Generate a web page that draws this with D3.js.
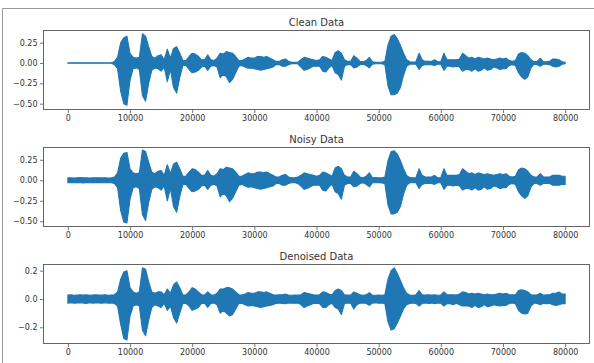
<!DOCTYPE html>
<html>
<head>
<meta charset="utf-8">
<script src="https://cdn.jsdelivr.net/npm/d3@7"></script>
<style>
  html, body { margin: 0; padding: 0; background: #fff; }
  svg { display: block; }
  text { font-family: "DejaVu Sans", sans-serif; fill: #333; }
</style>
</head>
<body>
<svg id="chart" width="594" height="363"></svg>
<script>
// Waveform envelopes, one value per 500-sample bin (0 .. 80000).
const binSize = 500;

const cleanHi = [
  0.003,0.003,0.003,0.003,0.003,0.003,0.003,0.003,0.003,0.003,
  0.003,0.003,0.003,0.003,0.003,0.02,0.07,0.25,0.31,0.33,
  0.12,0.07,0.06,0.07,0.36,0.33,0.20,0.08,0.06,0.09,
  0.10,0.04,0.17,0.06,0.18,0.20,0.12,0.03,0.03,0.08,
  0.12,0.11,0.08,0.04,0.04,0.10,0.04,0.03,0.06,0.12,
  0.11,0.14,0.13,0.12,0.08,0.03,0.03,0.05,0.07,0.06,
  0.06,0.08,0.08,0.07,0.08,0.06,0.04,0.02,0.02,0.04,
  0.05,0.02,0.008,0.008,0.01,0.04,0.07,0.06,0.05,0.04,
  0.03,0.04,0.08,0.07,0.05,0.03,0.13,0.15,0.12,0.04,
  0.02,0.02,0.09,0.06,0.02,0.015,0.03,0.07,0.015,0.01,
  0.01,0.01,0.02,0.22,0.33,0.35,0.30,0.22,0.12,0.04,
  0.015,0.012,0.015,0.12,0.04,0.02,0.02,0.02,0.04,0.015,
  0.015,0.12,0.04,0.04,0.04,0.04,0.05,0.12,0.09,0.06,
  0.07,0.05,0.07,0.06,0.05,0.06,0.05,0.04,0.05,0.06,
  0.05,0.06,0.03,0.02,0.03,0.11,0.13,0.12,0.09,0.04,
  0.015,0.02,0.06,0.015,0.015,0.02,0.05,0.05,0.04,0.015,
  0.01
];
const cleanLo = [
  -0.003,-0.003,-0.003,-0.003,-0.003,-0.003,-0.003,-0.003,-0.003,-0.003,
  -0.003,-0.003,-0.003,-0.003,-0.003,-0.02,-0.07,-0.35,-0.50,-0.52,
  -0.21,-0.07,-0.06,-0.08,-0.40,-0.47,-0.25,-0.09,-0.06,-0.07,
  -0.10,-0.05,-0.23,-0.08,-0.30,-0.37,-0.18,-0.03,-0.03,-0.08,
  -0.12,-0.11,-0.09,-0.05,-0.04,-0.09,-0.04,-0.03,-0.05,-0.18,
  -0.14,-0.17,-0.24,-0.20,-0.12,-0.04,-0.03,-0.05,-0.065,-0.06,
  -0.07,-0.08,-0.09,-0.08,-0.07,-0.06,-0.05,-0.02,-0.02,-0.04,
  -0.04,-0.02,-0.008,-0.008,-0.01,-0.05,-0.09,-0.08,-0.06,-0.04,
  -0.04,-0.04,-0.10,-0.11,-0.06,-0.03,-0.12,-0.14,-0.21,-0.04,
  -0.02,-0.02,-0.06,-0.05,-0.02,-0.015,-0.03,-0.06,-0.015,-0.01,
  -0.01,-0.01,-0.02,-0.28,-0.39,-0.39,-0.37,-0.30,-0.15,-0.04,
  -0.015,-0.012,-0.015,-0.08,-0.03,-0.02,-0.02,-0.02,-0.03,-0.015,
  -0.015,-0.09,-0.04,-0.04,-0.05,-0.04,-0.05,-0.10,-0.08,-0.08,
  -0.10,-0.07,-0.10,-0.09,-0.06,-0.09,-0.08,-0.05,-0.06,-0.08,
  -0.07,-0.07,-0.03,-0.02,-0.03,-0.12,-0.17,-0.20,-0.17,-0.06,
  -0.015,-0.02,-0.04,-0.015,-0.015,-0.02,-0.04,-0.05,-0.04,-0.015,
  -0.01
];

const noisyHi = [
  0.029,0.031,0.028,0.030,0.032,0.029,0.030,0.028,0.031,0.030,
  0.030,0.029,0.031,0.028,0.030,0.04,0.09,0.27,0.33,0.34,
  0.14,0.09,0.08,0.09,0.37,0.35,0.22,0.10,0.08,0.11,
  0.12,0.06,0.19,0.08,0.20,0.22,0.14,0.05,0.05,0.10,
  0.14,0.13,0.10,0.06,0.06,0.12,0.06,0.05,0.08,0.14,
  0.13,0.16,0.15,0.14,0.10,0.05,0.05,0.07,0.09,0.08,
  0.08,0.10,0.10,0.09,0.10,0.08,0.06,0.04,0.04,0.06,
  0.07,0.04,0.030,0.032,0.04,0.06,0.09,0.08,0.07,0.06,
  0.05,0.06,0.10,0.09,0.07,0.05,0.15,0.17,0.14,0.06,
  0.04,0.04,0.11,0.08,0.04,0.031,0.05,0.09,0.030,0.032,
  0.029,0.031,0.04,0.24,0.35,0.36,0.32,0.24,0.14,0.06,
  0.032,0.030,0.031,0.14,0.06,0.04,0.04,0.04,0.06,0.030,
  0.031,0.14,0.06,0.06,0.06,0.06,0.07,0.14,0.11,0.08,
  0.09,0.07,0.09,0.08,0.07,0.08,0.07,0.06,0.07,0.08,
  0.07,0.08,0.05,0.04,0.05,0.13,0.15,0.14,0.11,0.06,
  0.04,0.04,0.08,0.04,0.04,0.04,0.06,0.06,0.06,0.05,
  0.05
];
const noisyLo = [
  -0.030,-0.028,-0.031,-0.029,-0.030,-0.032,-0.028,-0.030,-0.029,-0.031,
  -0.029,-0.031,-0.030,-0.028,-0.030,-0.04,-0.09,-0.37,-0.51,-0.52,
  -0.23,-0.09,-0.08,-0.10,-0.42,-0.49,-0.27,-0.11,-0.08,-0.09,
  -0.12,-0.07,-0.25,-0.10,-0.32,-0.39,-0.20,-0.05,-0.05,-0.10,
  -0.14,-0.13,-0.11,-0.07,-0.06,-0.11,-0.06,-0.05,-0.07,-0.20,
  -0.16,-0.19,-0.26,-0.22,-0.14,-0.06,-0.05,-0.07,-0.085,-0.08,
  -0.09,-0.10,-0.11,-0.10,-0.09,-0.08,-0.07,-0.04,-0.04,-0.06,
  -0.06,-0.04,-0.031,-0.029,-0.04,-0.07,-0.11,-0.10,-0.08,-0.06,
  -0.06,-0.06,-0.12,-0.13,-0.08,-0.05,-0.14,-0.16,-0.23,-0.06,
  -0.04,-0.04,-0.08,-0.07,-0.04,-0.030,-0.05,-0.08,-0.031,-0.029,
  -0.030,-0.032,-0.04,-0.30,-0.41,-0.41,-0.39,-0.32,-0.17,-0.06,
  -0.030,-0.031,-0.029,-0.10,-0.05,-0.04,-0.04,-0.04,-0.05,-0.031,
  -0.030,-0.11,-0.06,-0.06,-0.07,-0.06,-0.07,-0.12,-0.10,-0.10,
  -0.12,-0.09,-0.12,-0.11,-0.08,-0.11,-0.10,-0.07,-0.08,-0.10,
  -0.09,-0.09,-0.05,-0.04,-0.05,-0.14,-0.19,-0.22,-0.19,-0.08,
  -0.04,-0.04,-0.06,-0.04,-0.04,-0.04,-0.06,-0.06,-0.06,-0.05,
  -0.05
];

const denoisedHi = [
  0.027,0.029,0.026,0.028,0.030,0.027,0.029,0.026,0.028,0.030,
  0.028,0.027,0.029,0.026,0.028,0.03,0.05,0.14,0.19,0.20,
  0.08,0.05,0.04,0.05,0.22,0.21,0.12,0.05,0.04,0.05,
  0.05,0.03,0.07,0.04,0.10,0.12,0.08,0.028,0.03,0.05,
  0.08,0.07,0.05,0.03,0.028,0.05,0.03,0.027,0.04,0.07,
  0.07,0.08,0.08,0.07,0.05,0.03,0.028,0.035,0.045,0.04,
  0.04,0.05,0.05,0.045,0.05,0.04,0.03,0.028,0.03,0.03,
  0.035,0.028,0.026,0.028,0.027,0.03,0.045,0.04,0.035,0.03,
  0.028,0.03,0.05,0.045,0.035,0.03,0.06,0.07,0.06,0.03,
  0.028,0.027,0.05,0.04,0.03,0.026,0.029,0.045,0.027,0.026,
  0.028,0.026,0.03,0.14,0.20,0.22,0.18,0.13,0.08,0.04,
  0.028,0.026,0.029,0.06,0.03,0.028,0.03,0.027,0.03,0.026,
  0.028,0.05,0.03,0.029,0.03,0.028,0.035,0.05,0.045,0.035,
  0.04,0.035,0.04,0.035,0.03,0.035,0.03,0.03,0.035,0.04,
  0.035,0.04,0.03,0.03,0.03,0.06,0.065,0.06,0.05,0.03,
  0.028,0.03,0.04,0.027,0.029,0.03,0.04,0.04,0.05,0.035,
  0.035
];
const denoisedLo = [
  -0.029,-0.027,-0.030,-0.028,-0.026,-0.029,-0.031,-0.027,-0.029,-0.028,
  -0.028,-0.030,-0.027,-0.029,-0.028,-0.032,-0.05,-0.18,-0.28,-0.29,
  -0.12,-0.05,-0.04,-0.05,-0.22,-0.26,-0.15,-0.06,-0.04,-0.05,
  -0.06,-0.032,-0.08,-0.05,-0.13,-0.17,-0.10,-0.03,-0.031,-0.05,
  -0.08,-0.07,-0.06,-0.032,-0.03,-0.06,-0.031,-0.029,-0.04,-0.10,
  -0.08,-0.10,-0.12,-0.11,-0.07,-0.032,-0.03,-0.04,-0.05,-0.045,
  -0.05,-0.055,-0.06,-0.055,-0.05,-0.045,-0.04,-0.031,-0.029,-0.032,
  -0.033,-0.029,-0.028,-0.03,-0.028,-0.04,-0.06,-0.05,-0.04,-0.032,
  -0.031,-0.033,-0.06,-0.06,-0.04,-0.031,-0.06,-0.07,-0.11,-0.032,
  -0.028,-0.03,-0.07,-0.04,-0.029,-0.028,-0.032,-0.045,-0.029,-0.027,
  -0.03,-0.028,-0.033,-0.16,-0.22,-0.21,-0.17,-0.12,-0.07,-0.04,
  -0.032,-0.029,-0.031,-0.05,-0.032,-0.028,-0.031,-0.029,-0.033,-0.028,
  -0.03,-0.05,-0.032,-0.033,-0.04,-0.031,-0.04,-0.05,-0.05,-0.05,
  -0.06,-0.045,-0.06,-0.055,-0.04,-0.055,-0.05,-0.04,-0.045,-0.05,
  -0.045,-0.045,-0.032,-0.029,-0.033,-0.08,-0.10,-0.106,-0.10,-0.05,
  -0.029,-0.032,-0.04,-0.031,-0.033,-0.031,-0.04,-0.045,-0.04,-0.033,
  -0.033
];

const panelTitles = ["Clean Data", "Noisy Data", "Denoised Data"];
const xTickValues = [0, 10000, 20000, 30000, 40000, 50000, 60000, 70000, 80000];
const yTickValues = [
  [0.25, 0.00, -0.25, -0.50],
  [0.25, 0.00, -0.25, -0.50],
  [0.2, 0.0, -0.2]
];
const yDomains = [[-0.578, 0.406], [-0.57, 0.406], [-0.318, 0.247]];

const panels = [
  { title: panelTitles[0], hi: cleanHi, lo: cleanLo, ticks: yTickValues[0], domain: yDomains[0], fmt: ".2f", top: 30 },
  { title: panelTitles[1], hi: noisyHi, lo: noisyLo, ticks: yTickValues[1], domain: yDomains[1], fmt: ".2f", top: 147 },
  { title: panelTitles[2], hi: denoisedHi, lo: denoisedLo, ticks: yTickValues[2], domain: yDomains[2], fmt: ".1f", top: 264 }
];

const svg = d3.select("#chart");
const W = 594, H = 363;
const left = 43, right = 590, boxH = 80;
const lineColor = "#1f77b4";
const axisColor = "#555";

svg.append("rect").attr("width", W).attr("height", H).attr("fill", "#fff");

// outer frame (top and left edges)
svg.append("path")
  .attr("d", `M2.5,${H} L2.5,8.5 L${W},8.5`)
  .attr("fill", "none").attr("stroke", "#999").attr("stroke-width", 1);

const x = d3.scaleLinear().domain([-4000, 84000]).range([left, right]);

const minus = s => s.replace("-", "\u2212");

panels.forEach(p => {
  const y = d3.scaleLinear().domain(p.domain).range([p.top + boxH, p.top]);
  const g = svg.append("g");

  const area = d3.area()
    .x((d, i) => x(i * binSize))
    .y0((d, i) => y(p.lo[i]))
    .y1((d, i) => y(p.hi[i]));

  g.append("path")
    .datum(p.hi)
    .attr("d", area)
    .attr("fill", lineColor)
    .attr("stroke", lineColor)
    .attr("stroke-width", 1.1)
    .attr("stroke-linejoin", "round");

  // axes
  const xAxis = d3.axisBottom(x).tickValues(xTickValues).tickFormat(d3.format("d"))
    .tickSize(3).tickPadding(2.5);
  const yAxis = d3.axisLeft(y).tickValues(p.ticks)
    .tickFormat(d => minus(d3.format(p.fmt)(d))).tickSize(3).tickPadding(2.5);

  const gx = g.append("g").attr("transform", `translate(0,${p.top + boxH})`).call(xAxis);
  const gy = g.append("g").attr("transform", `translate(${left},0)`).call(yAxis);
  [gx, gy].forEach(a => {
    a.select(".domain").remove();
    a.selectAll("line").attr("stroke", axisColor).attr("stroke-width", 0.8);
    a.selectAll("text").attr("font-size", 8).attr("fill", "#333")
      .attr("font-family", "DejaVu Sans, sans-serif");
  });

  // axes box
  g.append("rect")
    .attr("x", left + 0.5).attr("y", p.top + 0.5)
    .attr("width", right - left - 1).attr("height", boxH - 1)
    .attr("fill", "none").attr("stroke", axisColor).attr("stroke-width", 0.9);

  g.append("text")
    .attr("x", (left + right) / 2).attr("y", p.top - 4.5)
    .attr("text-anchor", "middle").attr("font-size", 10)
    .text(p.title);
});
</script>
</body>
</html>
